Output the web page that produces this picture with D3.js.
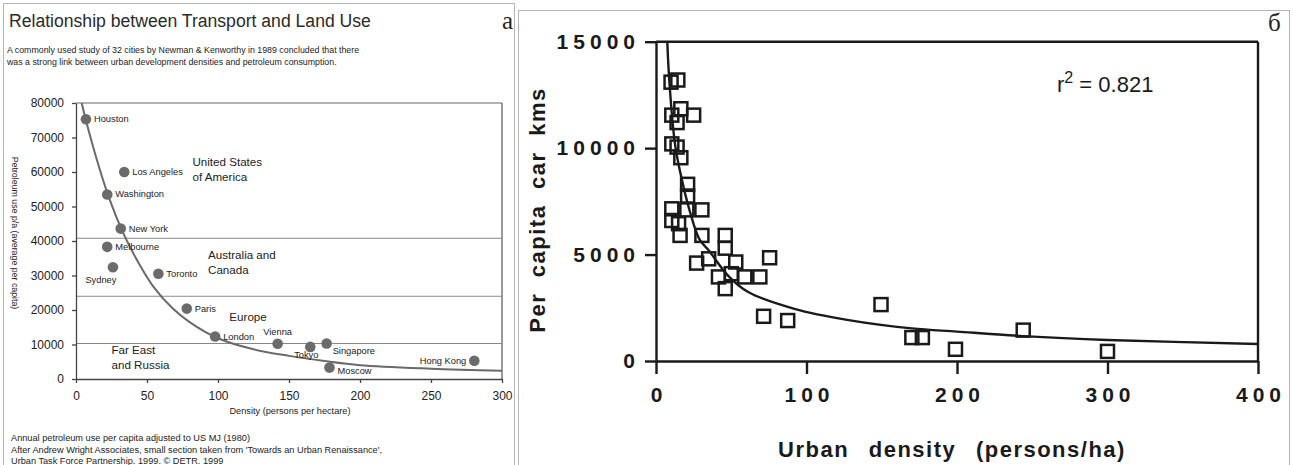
<!DOCTYPE html>
<html>
<head>
<meta charset="utf-8">
<script src="https://cdn.jsdelivr.net/npm/d3@7"></script>
<style>
  body { margin: 0; background: #fff; }
  svg { display: block; font-family: "Liberation Sans", Arial, sans-serif; }
</style>
</head>
<body>
<svg width="1293" height="465"></svg>
<script>
// ---- panel a : Newman & Kenworthy cities ----
var cities = ["Houston", "Los Angeles", "Washington", "New York", "Melbourne", "Sydney", "Toronto",
              "Paris", "London", "Vienna", "Tokyo", "Singapore", "Moscow", "Hong Kong"];
var cityDensity = [7, 34, 22, 31.5, 22, 26, 58, 78, 98, 142, 165, 176.5, 178.5, 280.5];
var cityPetrol  = [75300, 60000, 53500, 43600, 38300, 32400, 30500, 20400, 12300, 10200, 9300, 10300, 3300, 5300];

// hand drawn trend line of panel a
var curveAx = [4, 7, 14, 22, 33, 45, 55, 68, 80, 100, 125, 150, 175, 200, 250, 300];
var curveAy = [80000, 75000, 64500, 54000, 42500, 33000, 26500, 20500, 16500, 11800, 8600, 6700, 5200, 4000, 3000, 2400];

var bandLimits = [40800, 24000, 10300];
var regionLines = [["United States", "of America"], ["Australia and", "Canada"], ["Europe"], ["Far East", "and Russia"]];
var regionX = [82, 93, 108, 25];
var regionY = [61600, 34800, 16800, 7200];

var aXTicks = [0, 50, 100, 150, 200, 250, 300];
var aYTicks = [0, 10000, 20000, 30000, 40000, 50000, 60000, 70000, 80000];

// ---- panel б : per capita car kms vs urban density ----
var bDensity = [10, 14.5, 10.5, 16.5, 25, 14, 10.5, 14, 16.5, 21, 21, 10.5, 20.5, 30.5, 10.5, 15,
                16, 30.5, 46, 46, 27, 35, 53, 75.5, 41.5, 50, 59, 69, 46, 71.5, 87.5, 149.5, 170, 177,
                199, 244, 300];
var bCarKm = [13100, 13200, 11550, 11850, 11550, 11200, 10200, 10050, 9550, 8300, 7750, 7150, 7100, 7100, 6600, 6450,
              5900, 5900, 5900, 5300, 4600, 4800, 4650, 4850, 3950, 4100, 3950, 3950, 3400, 2100, 1900, 2650, 1100, 1100,
              550, 1450, 450];

// fitted curve of panel б
var curveBx = [7.5, 9, 12.6, 16, 22.6, 29, 35, 48, 61, 92, 128, 170, 200, 244, 300, 400];
var curveBy = [15000, 13000, 10200, 8900, 7000, 5700, 5200, 4000, 3250, 2450, 1920, 1530, 1380, 1170, 990, 800];

var bXTicks = [0, 100, 200, 300, 400];
var bYTicks = [0, 5000, 10000, 15000];

// label placement for the city names
var labelPlace = {"Sydney": "below", "Vienna": "above", "Tokyo": "belowLeft",
                  "Singapore": "belowRight", "Moscow": "lowRight", "Hong Kong": "left"};

var svg = d3.select("svg");
svg.append("rect").attr("width", 1293).attr("height", 465).attr("fill", "#fff");

// panel frames
svg.append("rect").attr("x", 3.5).attr("y", 3.5).attr("width", 511).attr("height", 470)
  .attr("fill", "none").attr("stroke", "#b5b5b5").attr("stroke-width", 1);
svg.append("rect").attr("x", 518.5).attr("y", 10.5).attr("width", 771).attr("height", 470)
  .attr("fill", "none").attr("stroke", "#b5b5b5").attr("stroke-width", 1);

// ================= panel a =================
var a = svg.append("g");
var xA = d3.scaleLinear().domain([0, 300]).range([76, 502]);
var yA = d3.scaleLinear().domain([0, 80000]).range([379, 103]);

a.append("text").attr("x", 9).attr("y", 27).attr("font-size", 17.6).attr("fill", "#2a2a2a")
  .text("Relationship between Transport and Land Use");
a.append("text").attr("x", 502).attr("y", 29).attr("font-family", "Liberation Serif, serif")
  .attr("font-size", 25).attr("fill", "#222").text("a");
a.append("text").attr("x", 7).attr("y", 53).attr("font-size", 8.8).attr("fill", "#222")
  .text("A commonly used study of 32 cities by Newman & Kenworthy in 1989 concluded that there");
a.append("text").attr("x", 7).attr("y", 65).attr("font-size", 8.8).attr("fill", "#222")
  .text("was a strong link between urban development densities and petroleum consumption.");

// frame top/right + region dividers
a.append("line").attr("x1", xA(0)).attr("x2", xA(300)).attr("y1", yA(80000)).attr("y2", yA(80000))
  .attr("stroke", "#666").attr("stroke-width", 1.2);
a.append("line").attr("x1", xA(300)).attr("x2", xA(300)).attr("y1", yA(80000)).attr("y2", yA(0))
  .attr("stroke", "#555").attr("stroke-width", 1.2);
a.selectAll(".band").data(bandLimits).enter().append("line")
  .attr("x1", xA(0)).attr("x2", xA(300))
  .attr("y1", function(d) { return yA(d); }).attr("y2", function(d) { return yA(d); })
  .attr("stroke", "#888").attr("stroke-width", 1.1);

var axA = a.append("g").attr("transform", "translate(0," + yA(0) + ")")
  .call(d3.axisBottom(xA).tickValues(aXTicks).tickSize(4).tickSizeOuter(0).tickPadding(8));
var ayA = a.append("g").attr("transform", "translate(" + xA(0) + ",0)")
  .call(d3.axisLeft(yA).tickValues(aYTicks).tickSize(4).tickSizeOuter(0).tickPadding(8).tickFormat(d3.format("d")));
[axA, ayA].forEach(function(g) {
  g.attr("font-family", null).attr("font-size", 12);
  g.selectAll("path, line").attr("stroke", "#444").attr("stroke-width", 1.3);
  g.selectAll("text").attr("fill", "#222");
});

a.append("text").attr("x", 290).attr("y", 414).attr("text-anchor", "middle")
  .attr("font-size", 9.2).attr("fill", "#222").text("Density (persons per hectare)");
a.append("text").attr("transform", "translate(12,233) rotate(90)").attr("text-anchor", "middle")
  .attr("font-size", 8.8).attr("fill", "#222").text("Petroleum use p/a (average per capita)");

// trend curve
a.append("path")
  .datum(d3.range(curveAx.length))
  .attr("d", d3.line().x(function(i) { return xA(curveAx[i]); }).y(function(i) { return yA(curveAy[i]); })
    .curve(d3.curveCatmullRom.alpha(0.5)))
  .attr("fill", "none").attr("stroke", "#6a6a6a").attr("stroke-width", 2);

// region labels
regionLines.forEach(function(lines, k) {
  var t = a.append("text").attr("x", xA(regionX[k])).attr("y", yA(regionY[k]))
    .attr("font-size", 11.6).attr("fill", "#222");
  lines.forEach(function(s, j) {
    t.append("tspan").attr("x", xA(regionX[k])).attr("dy", j ? 15 : 0).text(s);
  });
});

// cities
var ci = d3.range(cities.length);
a.selectAll(".city").data(ci).enter().append("circle")
  .attr("cx", function(i) { return xA(cityDensity[i]); })
  .attr("cy", function(i) { return yA(cityPetrol[i]); })
  .attr("r", 5.3).attr("fill", "#6b6b6b");
a.selectAll(".clab").data(ci).enter().append("text")
  .attr("font-size", 9.3).attr("fill", "#222")
  .each(function(i) {
    var px = xA(cityDensity[i]), py = yA(cityPetrol[i]);
    var p = labelPlace[cities[i]], t = d3.select(this);
    if (p === "below") t.attr("x", px - 12).attr("y", py + 16).attr("text-anchor", "middle");
    else if (p === "above") t.attr("x", px).attr("y", py - 9).attr("text-anchor", "middle");
    else if (p === "belowLeft") t.attr("x", px - 4).attr("y", py + 11).attr("text-anchor", "middle");
    else if (p === "belowRight") t.attr("x", px + 6).attr("y", py + 11);
    else if (p === "lowRight") t.attr("x", px + 8).attr("y", py + 6);
    else if (p === "left") t.attr("x", px - 8).attr("y", py + 3).attr("text-anchor", "end");
    else t.attr("x", px + 8).attr("y", py + 3);
  })
  .text(function(i) { return cities[i]; });

a.append("text").attr("x", 11).attr("y", 441).attr("font-size", 9.2).attr("fill", "#222")
  .text("Annual petroleum use per capita adjusted to US MJ (1980)");
a.append("text").attr("x", 11).attr("y", 452.5).attr("font-size", 9.2).attr("fill", "#222")
  .text("After Andrew Wright Associates, small section taken from 'Towards an Urban Renaissance',");
a.append("text").attr("x", 11).attr("y", 464).attr("font-size", 9.2).attr("fill", "#222")
  .text("Urban Task Force Partnership. 1999. \u00A9 DETR. 1999");

// ================= panel б =================
var b = svg.append("g");
var xB = d3.scaleLinear().domain([0, 400]).range([656, 1258]);
var yB = d3.scaleLinear().domain([0, 15000]).range([361, 41.7]);

b.append("text").attr("x", 1268).attr("y", 31).attr("font-family", "Liberation Serif, serif")
  .attr("font-size", 25).attr("fill", "#222").text("\u0431");

b.append("line").attr("x1", xB(0)).attr("x2", xB(400)).attr("y1", yB(15000)).attr("y2", yB(15000))
  .attr("stroke", "#1a1a1a").attr("stroke-width", 2.4);
b.append("line").attr("x1", xB(400)).attr("x2", xB(400)).attr("y1", yB(15000)).attr("y2", yB(0))
  .attr("stroke", "#1a1a1a").attr("stroke-width", 2.4);

var axB = b.append("g").attr("transform", "translate(0," + yB(0) + ")")
  .call(d3.axisBottom(xB).tickValues(bXTicks).tickSize(13).tickSizeOuter(0).tickPadding(13));
var ayB = b.append("g").attr("transform", "translate(" + xB(0) + ",0)")
  .call(d3.axisLeft(yB).tickValues(bYTicks).tickSize(11).tickSizeOuter(0).tickPadding(10).tickFormat(d3.format("d")));
[axB, ayB].forEach(function(g) {
  g.attr("font-family", null).attr("font-size", 21).attr("font-weight", "bold");
  g.selectAll("path, line").attr("stroke", "#1a1a1a").attr("stroke-width", 2.4);
  g.selectAll("text").attr("fill", "#1a1a1a").attr("letter-spacing", 5);
});
axB.selectAll("text").attr("dx", 2.5);
ayB.selectAll("text").attr("dx", 5);

b.append("text").attr("x", 952).attr("y", 457).attr("text-anchor", "middle")
  .attr("font-size", 22).attr("font-weight", "bold").attr("letter-spacing", 1.5).attr("word-spacing", 12)
  .attr("fill", "#1a1a1a").text("Urban density (persons/ha)");
b.append("text").attr("transform", "translate(545,210) rotate(-90)").attr("text-anchor", "middle")
  .attr("font-size", 22).attr("font-weight", "bold").attr("letter-spacing", 1.5).attr("word-spacing", 8)
  .attr("fill", "#1a1a1a").text("Per capita car kms");

var r2 = b.append("text").attr("x", 1057).attr("y", 92).attr("font-size", 22).attr("fill", "#1a1a1a");
r2.append("tspan").text("r");
r2.append("tspan").attr("font-size", 16).attr("dy", -9).text("2");
r2.append("tspan").attr("dy", 9).text(" = 0.821");

b.append("path")
  .datum(d3.range(curveBx.length))
  .attr("d", d3.line().x(function(i) { return xB(curveBx[i]); }).y(function(i) { return yB(curveBy[i]); })
    .curve(d3.curveCatmullRom.alpha(0.5)))
  .attr("fill", "none").attr("stroke", "#1a1a1a").attr("stroke-width", 2.4);

var sq = 13;
b.selectAll(".sq").data(d3.range(bDensity.length)).enter().append("rect")
  .attr("x", function(i) { return xB(bDensity[i]) - sq / 2; })
  .attr("y", function(i) { return yB(bCarKm[i]) - sq / 2; })
  .attr("width", sq).attr("height", sq)
  .attr("fill", "none").attr("stroke", "#1a1a1a").attr("stroke-width", 2.5);
</script>
</body>
</html>
